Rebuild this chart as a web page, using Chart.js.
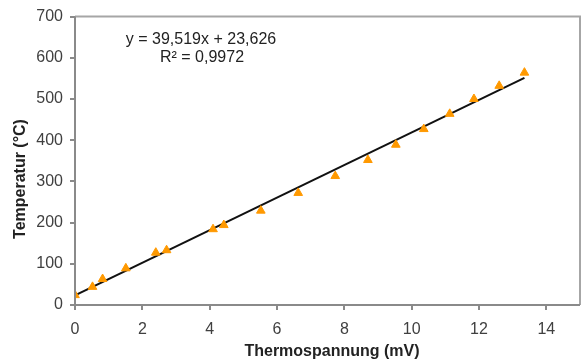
<!DOCTYPE html>
<html>
<head>
<meta charset="utf-8">
<script src="https://cdn.jsdelivr.net/npm/chart.js@4/dist/chart.umd.min.js"></script>
<style>
html,body{margin:0;padding:0;background:#fff;}
#wrap{width:586px;height:364px;position:relative;}
</style>
</head>
<body>
<div id="wrap"><canvas id="c" width="586" height="364"></canvas></div>
<script>
const voltage = [0, 0.52, 0.82, 1.51, 2.4, 2.72, 4.1, 4.42, 5.52, 6.63, 7.73, 8.7, 9.53, 10.36, 11.13, 11.85, 12.6, 13.35];
const temperature = [24, 44, 63, 89, 127, 133, 184, 194, 229, 272, 313, 352, 389, 427, 464, 500, 532, 564];
const trendX = [0, 13.35];
const trendY = [23.6, 551.2];
const equationLines = ["y = 39,519x + 23,626", "R\u00b2 = 0,9972"];
const xTitle = "Thermospannung (mV)";
const yTitle = "Temperatur (\u00b0C)";

const FONT = "'Liberation Sans', Arial, sans-serif";

const framePlugin = {
  id: 'frame',
  afterDraw(chart) {
    const {ctx, chartArea: a} = chart;
    ctx.save();
    ctx.lineWidth = 2;
    ctx.strokeStyle = '#a6a6a6';
    ctx.beginPath();
    ctx.moveTo(a.left, a.top);
    ctx.lineTo(a.right, a.top);
    ctx.lineTo(a.right, a.bottom);
    ctx.stroke();
    ctx.strokeStyle = '#8a8a8a';
    ctx.beginPath();
    ctx.moveTo(a.left, a.top);
    ctx.lineTo(a.left, a.bottom);
    ctx.lineTo(a.right, a.bottom);
    ctx.stroke();
    ctx.fillStyle = '#222';
    ctx.font = '16px ' + FONT;
    ctx.textAlign = 'center';
    ctx.textBaseline = 'middle';
    ctx.fillText(equationLines[0], 201, 40);
    ctx.fillText(equationLines[1], 202, 58);
    ctx.font = 'bold 16px ' + FONT;
    ctx.fillText(xTitle, 332, 352);
    ctx.translate(21, 179);
    ctx.rotate(-Math.PI / 2);
    ctx.fillText(yTitle, 0, 0);
    ctx.restore();
  }
};

new Chart(document.getElementById('c'), {
  type: 'scatter',
  data: {
    datasets: [
      {
        type: 'line',
        data: trendX.map((x, i) => ({x, y: trendY[i]})),
        borderColor: '#111',
        borderWidth: 2,
        pointRadius: 0,
        fill: false,
        order: 2
      },
      {
        data: voltage.map((x, i) => ({x, y: temperature[i]})),
        pointStyle: 'triangle',
        pointRadius: 5,
        backgroundColor: '#ff9900',
        borderColor: '#ff9900',
        borderWidth: 1,
        order: 1
      }
    ]
  },
  plugins: [framePlugin],
  options: {
    responsive: false,
    animation: false,
    layout: {padding: {top: 11, right: 6, left: 0, bottom: 0}},
    plugins: {legend: {display: false}, tooltip: {enabled: false}},
    scales: {
      x: {
        type: 'linear',
        min: 0, max: 15,
        afterFit(s) { s.height = 59; },
        ticks: {stepSize: 2, includeBounds: false, color: '#404040', font: {family: FONT, size: 16}, padding: 10},
        grid: {display: true, drawOnChartArea: false, drawTicks: true, tickLength: 5, color: '#8a8a8a', lineWidth: 2},
        border: {display: false},
        title: {display: false}
      },
      y: {
        min: 0, max: 700,
        afterFit(s) { s.width = 75; },
        ticks: {stepSize: 100, color: '#404040', font: {family: FONT, size: 16}, padding: 7},
        grid: {display: true, drawOnChartArea: false, drawTicks: true, tickLength: 5, color: '#8a8a8a', lineWidth: 2},
        border: {display: false},
        title: {display: false}
      }
    }
  }
});
</script>
</body>
</html>
